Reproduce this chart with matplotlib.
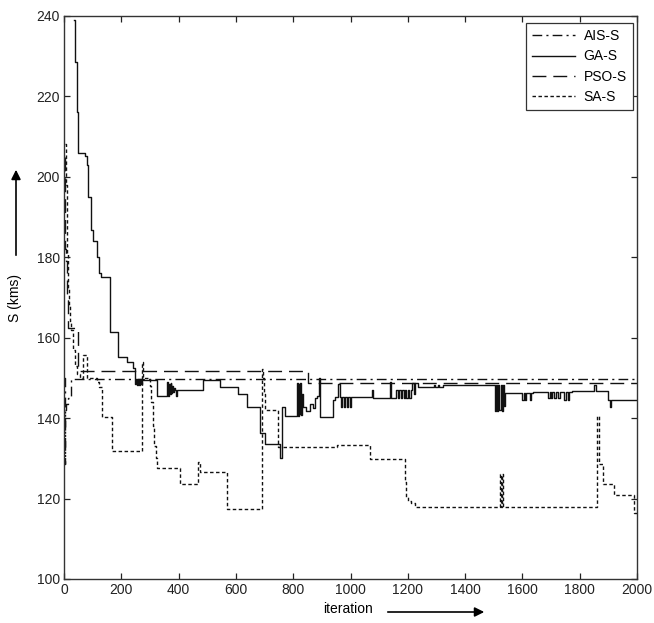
import matplotlib
matplotlib.use("Agg")
import matplotlib.pyplot as plt

plt.rcParams['font.family'] = ['Liberation Sans', 'DejaVu Sans']

# ---- data (iteration, S) as step points ----
ais_iter = [0, 2, 4, 6, 15, 25, 2000]
ais_val = [150, 128.5, 141.9, 143.5, 145, 149.6, 149.6]

ga_iter = [35, 38, 45, 50, 73, 80, 85, 93, 102, 114, 123, 128, 161, 188, 220, 241,
           248, 252, 255, 258, 262, 265, 268, 272, 276, 325,
           360, 363, 366, 369, 372, 375, 378, 381, 384, 387, 390, 395,
           485, 544, 608, 639, 684, 701, 754, 761, 771,
           813, 816, 819, 822, 825, 828, 831, 834, 845, 858, 868, 876, 882, 890, 893,
           939, 945, 957, 963, 968, 972, 977, 982, 987, 992, 997, 1002, 1005,
           1075, 1078, 1138, 1142, 1145, 1160, 1165, 1170, 1175, 1180, 1185, 1190, 1195, 1200,
           1205, 1210, 1215, 1220, 1225, 1235, 1290, 1295, 1305, 1310, 1323,
           1504, 1508, 1512, 1516, 1520, 1524, 1528, 1532, 1536, 1539,
           1600, 1604, 1610, 1614, 1625, 1630, 1637, 1690, 1695, 1700, 1705, 1712, 1718,
           1724, 1730, 1742, 1746, 1752, 1758, 1764, 1773, 1850, 1856, 1899, 1906, 1910, 1916, 1923, 2000]
ga_val = [239, 228.5, 216, 205.8, 205.2, 203, 195, 186.7, 184, 180, 176, 175, 161.3, 155.2, 153.9, 152.4,
          148.5, 149.5, 148.2, 149.8, 148.3, 149.6, 148.4, 149.4, 149.4, 145.4,
          148.9, 145.5, 148.5, 146.0, 148.8, 146.3, 148.0, 146.5, 147.5, 146.9, 145.5, 146.9,
          149.4, 147.6, 146.1, 142.7, 136.2, 133.6, 130.1, 142.7, 140.4,
          148.7, 140.6, 148.5, 141, 148.7, 140.8, 146, 142.7, 141.7, 143.5, 142.5, 145, 145.5, 150, 140.2,
          144.4, 145.2, 148.5, 145.2, 142.7, 145.2, 142.7, 145.2, 142.7, 145.2, 142.7, 145.2, 145.2,
          147, 145, 148.9, 144.9, 144.9, 146.9, 144.9, 146.9, 144.9, 146.9, 144.9, 146.9, 144.9, 146.9,
          144.9, 146.9, 148.7, 146, 148.7, 147.7, 148.3, 147.7, 148.3, 147.7, 148.2,
          141.7, 148.2, 141.7, 148.2, 142, 148.2, 141.7, 148.2, 143, 146.2,
          144.4, 146.2, 144.4, 146.2, 144.4, 146.2, 146.5, 145, 146.5, 145, 146.5, 145, 146.5,
          145, 146.5, 146.5, 144.4, 146.5, 144.4, 146.5, 146.7, 148.2, 146.7, 144.4, 142.7, 144.4, 144.4, 144.6, 144.6]

pso_iter = [2, 4, 5, 6, 9, 14, 48, 50, 52, 852, 2000]
pso_val = [205, 197, 182, 179, 170, 162.5, 158.5, 152.5, 151.8, 148.6, 148.6]

sa_iter = [5, 7, 8, 9, 10, 11, 13, 15, 18, 22, 26, 33, 38, 45, 55, 66, 80, 115, 122, 133, 167,
           272, 275, 300, 305, 310, 315, 320, 324, 405, 468, 475, 569, 691, 694, 698, 703, 747,
           953, 1068, 1190, 1195, 1201, 1210, 1226, 1521, 1524, 1528, 1531, 1859, 1866, 1882, 1920, 1990, 2000]
sa_val = [208, 203, 198, 190, 185, 181, 176, 172, 168, 164, 161.8, 157, 153, 151, 150, 155.6, 150, 149, 147.6, 140.2, 131.8,
          153.9, 150, 148, 144, 138, 133, 130, 127.5, 123.7, 129, 126.5, 117.5, 152.3, 150, 146, 141.9, 132.8,
          133.2, 129.8, 124, 120.5, 119.4, 118.8, 118, 126, 118, 126, 118, 140.4, 128.6, 123.7, 120.8, 116.3, 116.3]

fig = plt.figure(figsize=(6.54, 6.23), dpi=100)
ax = fig.add_axes([64 / 654, 44 / 623, 573 / 654, 563.3 / 623])

lc = '#111111'
lw = 1.0
ax.plot(ais_iter, ais_val, color=lc, lw=lw, drawstyle='steps-post', dashes=(7, 3, 1.5, 3), label='AIS-S')
ax.plot(ga_iter, ga_val, color=lc, lw=lw, drawstyle='steps-post', label='GA-S')
ax.plot(pso_iter, pso_val, color=lc, lw=lw, drawstyle='steps-post', dashes=(10, 5), label='PSO-S')
ax.plot(sa_iter, sa_val, color=lc, lw=lw, drawstyle='steps-post', dashes=(2.5, 1.8), label='SA-S')

ax.set_xlim(0, 2000)
ax.set_ylim(100, 240)
ax.set_xticks(range(0, 2001, 200))
ax.set_yticks(range(100, 241, 20))
ax.tick_params(direction='in', top=True, right=True, length=4, width=0.9,
               labelsize=10, pad=3, colors='#222222')
for s in ax.spines.values():
    s.set_linewidth(1.0)
    s.set_color('#333333')

leg = fig.legend(loc='upper right', bbox_to_anchor=(633 / 654, 1 - 23 / 623),
                 fontsize=10, handlelength=3.1, handletextpad=0.6, labelspacing=0.45,
                 borderpad=0.45, borderaxespad=0, fancybox=False, framealpha=1)
leg.get_frame().set_edgecolor('#333333')
leg.get_frame().set_linewidth(0.9)

# axis labels with arrows, placed like the original
fig.text(15 / 654, 1 - 298 / 623, 'S (kms)', rotation=90, ha='center', va='center', fontsize=10)
fig.patches.append(matplotlib.patches.FancyArrowPatch(
    (16 / 654, 1 - 258 / 623), (16 / 654, 1 - 167 / 623), transform=fig.transFigure,
    arrowstyle='-|>', mutation_scale=14, lw=1.2, color='black'))
fig.text(348 / 654, 1 - 609 / 623, 'iteration', ha='center', va='center', fontsize=10)
fig.patches.append(matplotlib.patches.FancyArrowPatch(
    (385 / 654, 1 - 612 / 623), (487 / 654, 1 - 612 / 623), transform=fig.transFigure,
    arrowstyle='-|>', mutation_scale=14, lw=1.2, color='black'))

fig.savefig('out.png', dpi=100)
